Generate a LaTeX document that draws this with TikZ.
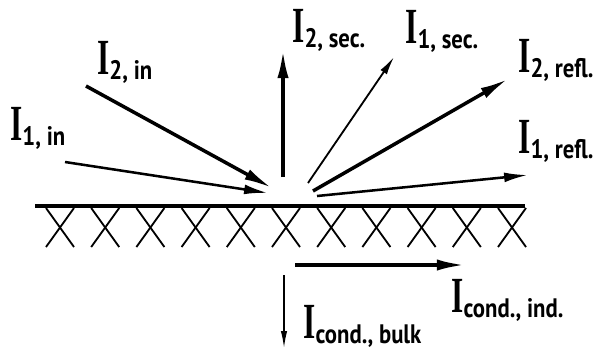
\documentclass[tikz,border=0pt]{standalone}
\usepackage{fontspec}
\usetikzlibrary{arrows.meta}
\newfontfamily\beamfont[FakeStretch=0.62]{Liberation Serif}
\newfontfamily\subfont[FakeStretch=0.85]{PT Sans}
\newcommand{\beam}[1]{{\fontsize{36}{36}\selectfont\beamfont\bfseries I}{\fontsize{19}{19}\selectfont\subfont\bfseries\raisebox{-4pt}{#1}}}
\begin{document}
\begin{tikzpicture}[x=0.025cm,y=-0.025cm,
  surface/.style={line width=2.8pt},
  hatch/.style={line width=1.3pt},
  thickray/.style={line width=2.5pt,-{Latex[length=20pt,width=8pt]}},
  midray/.style={line width=1.8pt,-{Latex[length=17pt,width=7pt]}},
  thinray/.style={line width=1.3pt,-{Latex[length=13pt,width=5.5pt]}},
  beamlabel/.style={anchor=base west,inner sep=0pt}]
\useasboundingbox (0,0) rectangle (602,349);
% surface with the bulk below
\draw[surface] (35,206) -- (525,206);
\foreach \c in {0,...,10}{
  \draw[hatch] ({60+45.2*\c-14},208) -- ({60+45.2*\c+14},247);
  \draw[hatch] ({60+45.2*\c+14},208) -- ({60+45.2*\c-14},247);
}
% ends of the beams
\coordinate (in1-a) at (65,162);   \coordinate (in1-b) at (268,193);
\coordinate (in2-a) at (86,86);    \coordinate (in2-b) at (272,188);
\coordinate (sec2-a) at (283,177); \coordinate (sec2-b) at (283,50);
\coordinate (sec1-a) at (308,183); \coordinate (sec1-b) at (394,57);
\coordinate (refl2-a) at (313,191); \coordinate (refl2-b) at (508,79);
\coordinate (refl1-a) at (317,196); \coordinate (refl1-b) at (528,175);
\coordinate (ind-a) at (295,265);  \coordinate (ind-b) at (465,265);
\coordinate (bulk-a) at (284,275); \coordinate (bulk-b) at (284,348);

\draw[midray] (in1-a) -- (in1-b);
\draw[thickray] (in2-a) -- (in2-b);
\draw[thickray] (sec2-a) -- (sec2-b);
\draw[thinray] (sec1-a) -- (sec1-b);
\draw[thickray] (refl2-a) -- (refl2-b);
\draw[midray] (refl1-a) -- (refl1-b);
\draw[thickray] (ind-a) -- (ind-b);
\draw[line width=1pt,-{Latex[length=12pt,width=4.5pt]}] (bulk-a) -- (bulk-b);

\node[beamlabel] (L1in) at (10,140) {\beam{1, in}};
\node[beamlabel] (L2in) at (97,74) {\beam{2, in}};
\node[beamlabel] (L2sec) at (292,42) {\beam{2, sec.}};
\node[beamlabel] (L1sec) at (405,43) {\beam{1, sec.}};
\node[beamlabel] (L2refl) at (518,72) {\beam{2, refl.}};
\node[beamlabel] (L1refl) at (518,153) {\beam{1, refl.}};
\node[beamlabel] (Lind) at (451,312) {\beam{cond., ind.}};
\node[beamlabel] (Lbulk) at (303,338) {\beam{cond., bulk}};
\end{tikzpicture}
\end{document}
